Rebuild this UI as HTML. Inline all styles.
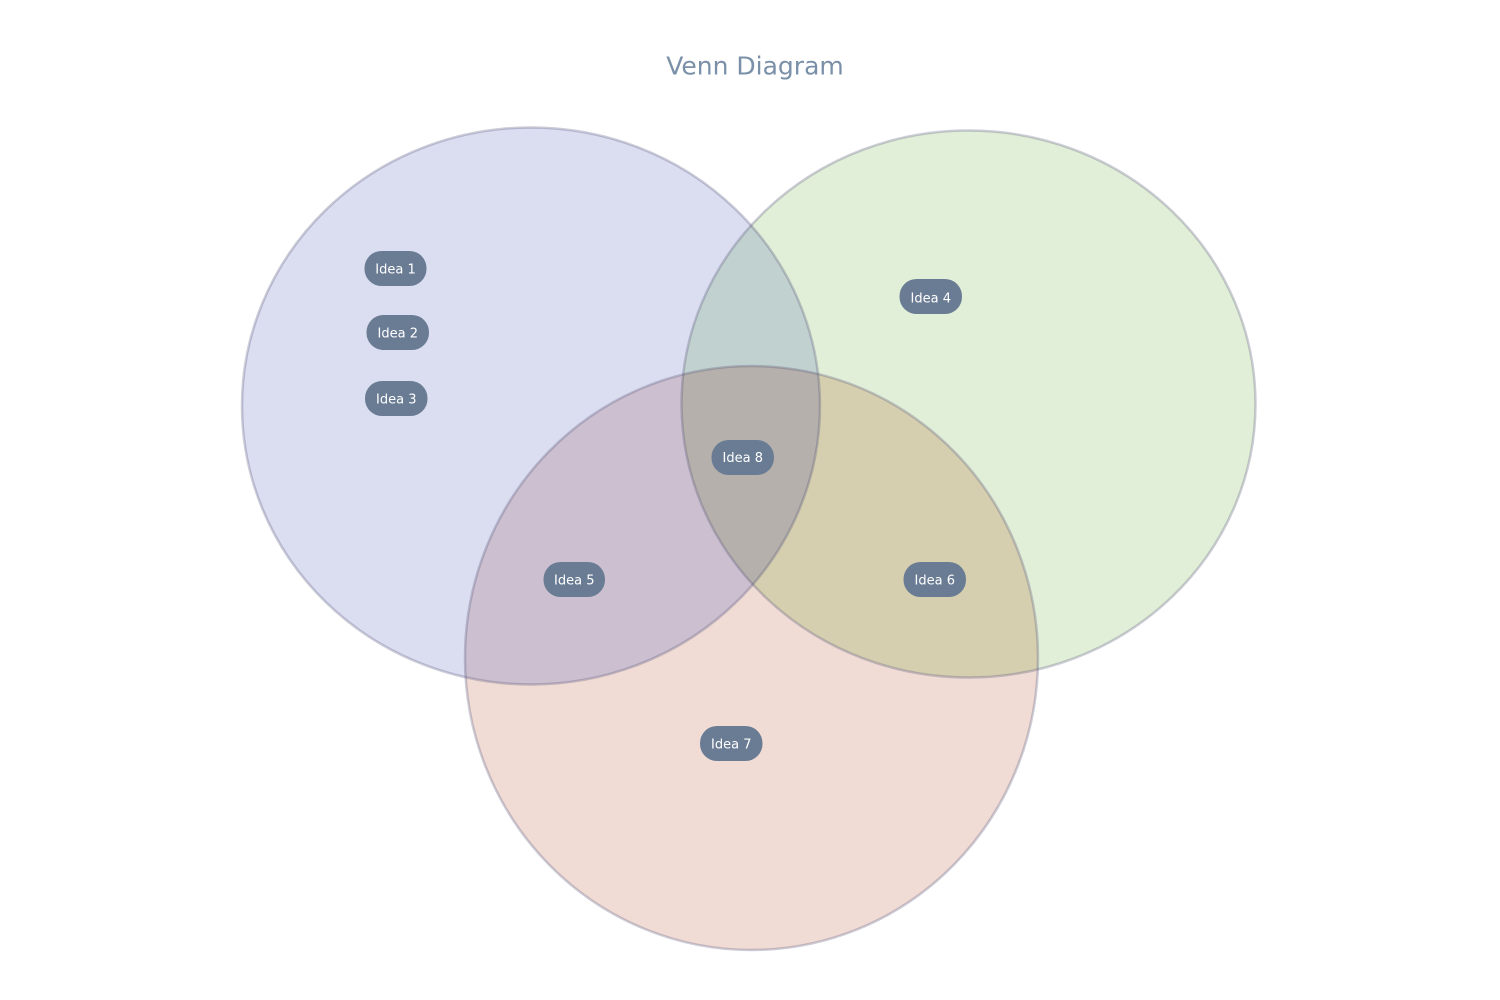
<!DOCTYPE html>
<html>
<head>
<meta charset="utf-8">
<style>
html,body{margin:0;padding:0;background:#fff;width:1500px;height:1000px;overflow:hidden}
svg{display:block}
text{font-family:"DejaVu Sans",Verdana,sans-serif}
</style>
</head>
<body>
<svg width="1500" height="1000" viewBox="0 0 1500 1000" xmlns="http://www.w3.org/2000/svg">
<defs>
<clipPath id="cb"><ellipse cx="531" cy="406" rx="289" ry="278.500"/></clipPath>
<clipPath id="cg"><ellipse cx="968.500" cy="404" rx="287" ry="273.500"/></clipPath>
</defs>
<rect width="1500" height="1000" fill="#fff"/>
<text x="755" y="74.500" text-anchor="middle" font-size="25" fill="#7a90a8">Venn Diagram</text>
<ellipse cx="531" cy="406" rx="289" ry="278.500" fill="#dbddf0"/>
<ellipse cx="968.500" cy="404" rx="287" ry="273.500" fill="#e2efd8"/>
<ellipse cx="751.500" cy="658" rx="286.500" ry="292" fill="#f0dbd5"/>
<ellipse cx="968.500" cy="404" rx="287" ry="273.500" fill="#c1d1cf" clip-path="url(#cb)"/>
<ellipse cx="751.500" cy="658" rx="286.500" ry="292" fill="#ccc0d0" clip-path="url(#cb)"/>
<ellipse cx="751.500" cy="658" rx="286.500" ry="292" fill="#d5cfb0" clip-path="url(#cg)"/>
<g clip-path="url(#cg)"><ellipse cx="751.500" cy="658" rx="286.500" ry="292" fill="#b5b0ab" clip-path="url(#cb)"/></g>
<g stroke-width="2.500" fill="none" stroke="rgb(75,75,115)" stroke-opacity=".28">
<ellipse cx="531" cy="406" rx="289" ry="278.500"/>
<ellipse cx="968.500" cy="404" rx="287" ry="273.500"/>
<ellipse cx="751.500" cy="658" rx="286.500" ry="292"/>
</g>
<g fill="#6a7c94">
<rect x="364.500" y="251" width="62" height="35" rx="17"/>
<rect x="366.500" y="315" width="62.500" height="35" rx="17"/>
<rect x="365" y="381" width="62.500" height="35" rx="17"/>
<rect x="899.500" y="279" width="62.500" height="35" rx="17"/>
<rect x="711.500" y="440" width="62.500" height="35" rx="17"/>
<rect x="543.500" y="562" width="61.500" height="35" rx="17"/>
<rect x="903.500" y="562" width="62.500" height="35" rx="17"/>
<rect x="700" y="726" width="62.500" height="35" rx="17"/>
</g>
<g fill="#fff" font-size="13" text-anchor="middle">
<text x="395.500" y="273.500">Idea 1</text>
<text x="397.750" y="337.500">Idea 2</text>
<text x="396.250" y="403.500">Idea 3</text>
<text x="930.750" y="302.500">Idea 4</text>
<text x="574.250" y="584.500">Idea 5</text>
<text x="934.750" y="584.500">Idea 6</text>
<text x="731.250" y="748.500">Idea 7</text>
<text x="742.750" y="462">Idea 8</text>
</g>
</svg>
</body>
</html>
